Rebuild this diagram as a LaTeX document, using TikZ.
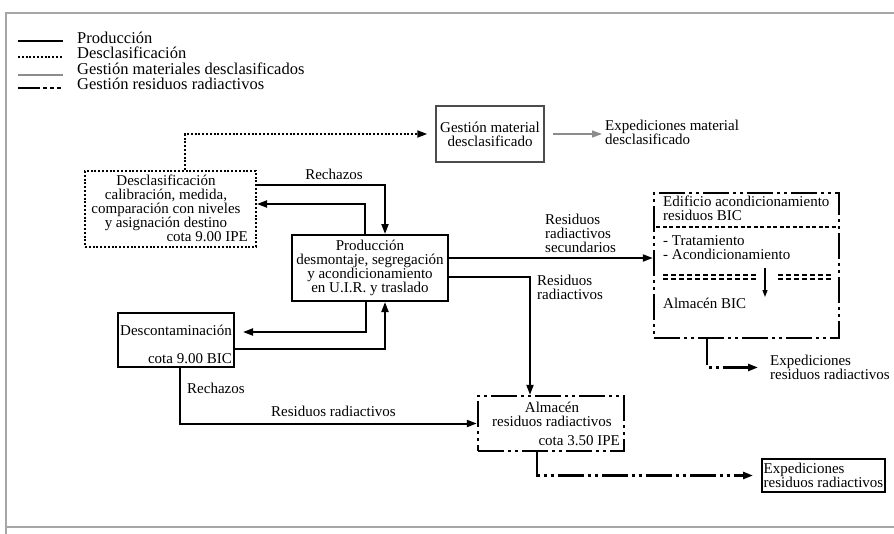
\documentclass[tikz,border=0pt]{standalone}
\usepackage{fontspec}
\setmainfont{Liberation Serif}
\usetikzlibrary{arrows.meta}
\newcommand\boxtext{\fontsize{15}{14}\selectfont\lineskiplimit=-20pt}
\newcommand\legtext{\fontsize{16.5}{15.5}\selectfont}

\begin{document}
\begin{tikzpicture}[x=1pt, y=-1pt, >={Triangle[length=10pt,width=7pt]},
    prodline/.style={line width=2pt},
    declline/.style={line width=2pt, dash pattern=on 2pt off 1.8pt},
    gestline/.style={line width=1.5pt, black!45},
    residline/.style={line width=2.4pt, dash pattern=on 26pt off 4pt on 3pt off 4pt on 3pt off 4pt},
    box/.style={draw, inner sep=0pt},
    txt/.style={inner sep=0pt, font=\boxtext}]

    \useasboundingbox (0,0) rectangle (894,533);
    % Frame
    \draw[black!35, line width=1.2pt] (900,13) -- (6,13) -- (6,540);
    \draw[black!35, line width=1.5pt] (6,527) -- (900,527);

    % Legend
    \draw[prodline] (18,41) -- (63,41);
    \draw[declline] (18,57) -- (63,57);
    \draw[gestline] (18,75) -- (63,75);
    \draw[line width=2.4pt, dash pattern=on 22pt off 3pt on 4pt off 3pt on 4pt off 3pt on 4pt] (18,88) -- (63,88);
    \node[anchor=base west, inner sep=0pt, font=\legtext] (legprod) at (77,43) {Producción};
    \node[anchor=base west, inner sep=0pt, font=\legtext] (legdecl) at (77,58.5) {Desclasificación};
    \node[anchor=base west, inner sep=0pt, font=\legtext] (leggest) at (77,74) {Gestión materiales desclasificados};
    \node[anchor=base west, inner sep=0pt, font=\legtext] (legresid) at (77,89.5) {Gestión residuos radiactivos};

    % Desclasificacion
    \node[box, declline, minimum width=171, minimum height=76] (desc) at (170.5,209) {};
    \node[txt, align=center, anchor=north] (desctxt) at (166,175) {Desclasificación\\calibración, medida,\\comparación con niveles\\y asignación destino};
    \node[txt, anchor=base east] (desccota) at (248,241) {cota 9.00 IPE};

    % Gestion material desclasificado
    \node[box, draw=black!70, line width=1.5pt, minimum width=108, minimum height=56, txt, align=center] (gest) at (490,134) {Gestión material\\desclasificado};
    \node[txt, align=left, anchor=north west] (expmat) at (605,120) {Expediciones material\\desclasificado};

    % Produccion
    \node[box, prodline, txt, align=center, minimum width=156, minimum height=66] (prod) at (370,268) {Producción\\desmontaje, segregación\\y acondicionamiento\\en U.I.R. y traslado};

    % Edificio acondicionamiento
    \node[box, residline, minimum width=185, minimum height=145] (edif) at (746.5,265.5) {};
    \node[txt, align=left, anchor=north west] (ediftxt) at (663,196) {Edificio acondicionamiento\\residuos BIC};
    \node[txt, align=left, anchor=north west] (tratam) at (663,235) {- Tratamiento\\- Acondicionamiento};
    \node[txt, anchor=base west] (almbic) at (663,308) {Almacén BIC};
    \draw[line width=1.2pt, dash pattern=on 4pt off 2.5pt] (656,227) -- (837,227);
    \draw[line width=1.2pt, dash pattern=on 5pt off 3pt] (663,275) -- (756,275) (778,275) -- (832,275)
        (663,279) -- (756,279) (778,279) -- (832,279);
    \draw[line width=1.2pt, -{Triangle[length=7pt,width=5pt]}] (765,268) -- (765,297);
    \node[txt, align=left, anchor=north west] (expbic) at (770,355) {Expediciones\\residuos radiactivos};

    % Descontaminacion
    \node[box, prodline, minimum width=116, minimum height=54] (descon) at (176,340) {};
    \node[txt, anchor=base] (descontxt) at (176,335) {Descontaminación};
    \node[txt, anchor=base east] (desconcota) at (232,363) {cota 9.00 BIC};

    % Almacen residuos
    \node[box, residline, minimum width=146, minimum height=55] (alm) at (551,423.5) {};
    \node[txt, align=center, anchor=north] (almtxt) at (552,402) {Almacén\\residuos radiactivos};
    \node[txt, anchor=base east] (almcota) at (620,445) {cota 3.50 IPE};
    \node[box, prodline, txt, align=left, minimum width=123, minimum height=33] (expres) at (823.5,475.5) {Expediciones\\residuos radiactivos};

    % Flows
    \draw[declline,->] ([xshift=14.5pt]desc.north) |- ([xshift=-8pt]gest.west);
    \draw[gestline,->,shorten <=8pt,shorten >=3pt] (gest.east) -- (gest.east -| expmat.west);
    \draw[prodline,->] ([yshift=24pt]desc.east) -| ([xshift=15pt]prod.north);
    \node[txt, anchor=base] (rech1) at (334,179) {Rechazos};
    \draw[prodline,->] ([xshift=-5pt]prod.north) |- ([yshift=5pt]desc.east);
    \draw[prodline,->] ([yshift=10pt]prod.east) coordinate (p1) -- (p1 -| edif.west);
    \node[txt, align=left, anchor=north west] (ressec) at (545,214) {Residuos\\radiactivos\\secundarios};
    \draw[prodline,->] ([yshift=-9pt]prod.east) -| ([xshift=-21pt]alm.north);
    \node[txt, align=left, anchor=north west] (resrad) at (537,274.5) {Residuos\\radiactivos};
    \draw[prodline,->,shorten >=8pt] ([xshift=-4pt]prod.south) |- ([yshift=8pt]descon.east);
    \draw[prodline,->] ([yshift=-9pt]descon.east) -| ([xshift=15pt]prod.south);
    \draw[prodline,->] ([xshift=4pt]descon.south) |- (alm.west);
    \node[txt, anchor=base west] (rech2) at (187,393) {Rechazos};
    \node[txt, anchor=base] (resrad2) at (333.5,416) {Residuos radiactivos};
    \draw[residline,->,shorten >=8pt] ([xshift=-14pt]alm.south) |- (expres.west);
    \draw[residline,->,shorten >=12pt] ([xshift=-39.5pt]edif.south) |- (expbic.west);
\end{tikzpicture}
\end{document}
